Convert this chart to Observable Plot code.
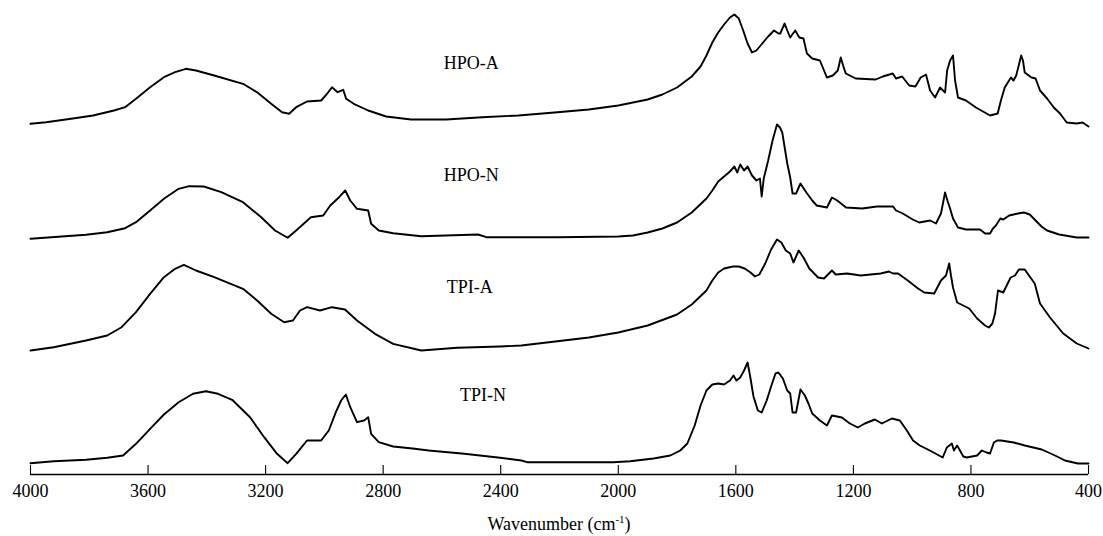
<!DOCTYPE html>
<html><head><meta charset="utf-8">
<script src="https://cdn.jsdelivr.net/npm/d3@7"></script>
<script src="https://cdn.jsdelivr.net/npm/@observablehq/plot@0.6"></script>
<style>
html,body{margin:0;padding:0;background:#fff;}
body{width:1103px;height:536px;position:relative;overflow:hidden;font-family:"Liberation Serif","Times New Roman",serif;}
#chart svg{display:block;}
#xlabel{position:absolute;left:30px;width:1058px;top:513px;text-align:center;font-size:18px;line-height:22px;color:#000;}
#xlabel sup{font-size:11px;vertical-align:7px;line-height:0;}
</style></head><body>
<div id="chart"></div>
<div id="xlabel">Wavenumber (cm<sup>-1</sup>)</div>
<script>
// x-axis tick labels (wavenumber, cm-1)
const xTicks = [4000, 3600, 3200, 2800, 2400, 2000, 1600, 1200, 800, 400];
const seriesNames = ["HPO-A", "HPO-N", "TPI-A", "TPI-N"];
// label anchors (wavenumber, intensity a.u.)
const labelX = [2500, 2500, 2505, 2460];
const labelY = [411, 299, 187, 79];

// spectra: [wavenumber, stacked intensity (a.u.)]
const hpoA = [[4000,350.7],[3947,352.3],[3862,355.7],[3787,359],[3716,364],[3678,367.3],[3641,375.7],[3593,387.3],[3546,397.3],[3508,402.3],[3471,405.7],[3437,404],[3375,399],[3277,390.7],[3229,382.3],[3181,370.7],[3144,362.3],[3120,360.7],[3096,367.3],[3059,373],[3011,374],[2991,380.7],[2974,387.3],[2955,382.3],[2936,384.7],[2926,375.7],[2900,370.7],[2851,364],[2790,358],[2705,355],[2586,355],[2463,357.3],[2340,359],[2207,362.3],[2100,365],[2000,369],[1900,375],[1850,380],[1800,387],[1750,398],[1720,408],[1700,419],[1680,432],[1660,442],[1640,450],[1620,457],[1605,460],[1590,456],[1575,444],[1560,431],[1545,422],[1530,424],[1510,431],[1490,438],[1470,444],[1455,441],[1449,441],[1434,451],[1425,444],[1415,437],[1398,444],[1384,437],[1370,436],[1358,421],[1340,416],[1314,414],[1290,397],[1270,399],[1253,404],[1243,417],[1235,409],[1226,401],[1192,396],[1124,395],[1100,398],[1066,401],[1055,396],[1034,398],[1010,389],[989,388],[971,397],[953,400],[939,384],[922,377],[905,387],[888,382],[881,404],[871,414],[861,419],[854,394],[844,377],[817,374],[783,367],[735,359],[709,361],[698,374],[685,387],[664,397],[655,394],[646,399],[629,419],[623,414],[617,402],[594,397],[580,396],[565,384],[541,376],[518,367],[497,361],[474,352],[440,351],[420,352],[400,348]];
const hpoN = [[4000,235.7],[3811,239.7],[3739,242.3],[3678,246.3],[3641,252.3],[3593,264],[3546,275.7],[3496,285.7],[3460,288.3],[3410,288],[3351,282.3],[3277,272.3],[3215,257.3],[3168,244],[3125,236.7],[3096,244],[3046,257.3],[3004,259],[2980,269],[2950,277.3],[2929,284],[2912,274],[2889,265.7],[2851,264],[2841,250.7],[2815,244],[2766,241.3],[2670,238.3],[2477,240],[2449,237.3],[2207,237.3],[2000,238],[1950,239],[1900,242],[1850,246],[1800,252],[1750,262],[1700,276],[1680,284],[1660,293],[1640,298],[1620,303],[1605,308],[1595,302],[1585,310],[1572,304],[1560,308],[1545,299],[1530,294],[1518,296],[1512,278],[1505,296],[1490,314],[1475,334],[1460,350],[1450,347],[1442,342],[1425,311],[1415,297],[1407,281],[1395,281],[1380,291],[1360,282],[1340,274],[1325,269],[1290,267],[1273,277],[1255,274],[1225,267],[1170,266],[1120,268],[1065,268],[1055,264],[1032,261],[998,255],[976,252],[939,254],[919,251],[902,261],[888,282],[880,274],[871,266],[861,256],[844,247],[817,245],[769,245],[752,241],[735,241],[725,246],[715,249],[700,256],[690,255],[670,259],[640,261],[620,262],[600,260],[560,248],[541,244],[500,240],[440,237],[400,237]];
const tpiA = [[4000,124],[3921,127.3],[3811,134],[3739,139],[3690,147.3],[3641,162.3],[3593,180.7],[3546,197.3],[3508,205.7],[3478,209.7],[3437,204],[3375,197.3],[3277,185.7],[3229,174],[3181,160.7],[3137,152.3],[3107,154],[3083,164],[3059,167.3],[3015,164],[2974,167.3],[2930,165],[2889,154],[2828,140.7],[2766,130.7],[2670,124],[2548,126.7],[2402,128],[2330,129],[2207,133.3],[2100,137],[2000,142],[1900,149],[1800,160],[1750,170],[1700,184],[1680,194],[1660,202],[1640,206],[1610,208],[1590,208],[1570,206],[1550,202],[1535,198],[1520,200],[1500,211],[1480,225],[1460,235],[1445,232],[1430,224],[1415,221],[1404,212],[1386,224],[1370,217],[1350,206],[1320,197],[1300,196],[1273,204],[1260,200],[1221,201],[1175,199],[1107,201],[1079,203],[1065,201],[1048,201],[1015,194],[980,186],[959,182],[925,181],[902,194],[885,199],[874,211],[868,199],[861,187],[847,172],[806,166],[779,156],[752,149],[739,147],[727,151],[718,161],[708,184],[690,182],[665,197],[650,199],[637,205],[617,205],[583,191],[565,171],[531,157],[486,141],[440,131],[400,126]];
const tpiN = [[4000,11.3],[3921,13.3],[3811,14.7],[3739,16.7],[3685,19],[3641,30.7],[3593,45.7],[3546,60],[3496,72.3],[3447,80.7],[3403,83.3],[3362,80.7],[3314,74.7],[3253,57.3],[3205,37.3],[3161,20.7],[3125,11.3],[3096,20.7],[3059,34],[3011,34],[2985,44],[2961,62.3],[2943,74],[2927,80],[2912,67.3],[2889,52.3],[2865,54],[2851,57.3],[2841,40.7],[2815,32.3],[2766,28],[2700,26],[2645,24],[2524,20.7],[2402,16.7],[2330,14],[2310,12.3],[2017,12.3],[1960,13.3],[1880,16],[1823,19],[1789,24],[1765,31],[1740,49],[1720,69],[1700,84],[1680,90],[1660,91],[1640,90],[1620,94],[1608,99],[1598,94],[1585,97],[1572,104],[1560,112],[1550,96],[1540,78],[1525,64],[1512,62],[1495,74],[1480,88],[1465,101],[1455,102],[1440,96],[1425,84],[1415,81],[1407,62],[1395,62],[1380,85],[1365,79],[1353,71],[1340,61],[1314,54],[1290,49],[1273,59],[1239,57],[1212,51],[1185,47],[1161,51],[1127,55],[1103,51],[1069,56],[1042,54],[1018,44],[997,34],[974,29],[940,24],[896,17],[882,27],[865,31],[858,24],[847,29],[826,18],[814,17],[779,19],[763,24],[747,22],[735,21],[722,32],[711,34],[698,34],[654,32],[617,29],[559,25],[514,19],[480,14],[436,11],[400,11]];

const spectra = [hpoA, hpoN, tpiA, tpiN];
const rows = spectra.flatMap((s, i) => s.map(([w, v]) => ({series: seriesNames[i], w, v})));
const labels = seriesNames.map((name, i) => ({name, x: labelX[i], y: labelY[i]}));

const chart = Plot.plot({
  width: 1103,
  height: 505,
  marginLeft: 30,
  marginRight: 15,
  marginTop: 0,
  marginBottom: 31,
  x: {domain: [4000, 400], label: null},
  y: {domain: [0, 474], axis: null},
  style: {fontFamily: '"Liberation Serif","Times New Roman",serif', fontSize: "18px", color: "#000", background: "#fff", overflow: "visible"},
  marks: [
    Plot.ruleY([0], {stroke: "#000", strokeWidth: 1.4}),
    Plot.ruleX(xTicks, {x: d => d, y1: 0, y2: 9, stroke: "#000", strokeWidth: 1.1}),
    Plot.axisX({ticks: xTicks, tickSize: 0, tickPadding: 10, tickFormat: d => String(d), fontSize: 18, label: null}),
    Plot.line(rows, {x: "w", y: "v", z: "series", stroke: "#000", strokeWidth: 1.9, curve: "linear"}),
    Plot.text(labels, {x: "x", y: "y", text: "name", fontSize: 18, fill: "#000"})
  ]
});
document.getElementById("chart").appendChild(chart);
</script>
</body></html>
